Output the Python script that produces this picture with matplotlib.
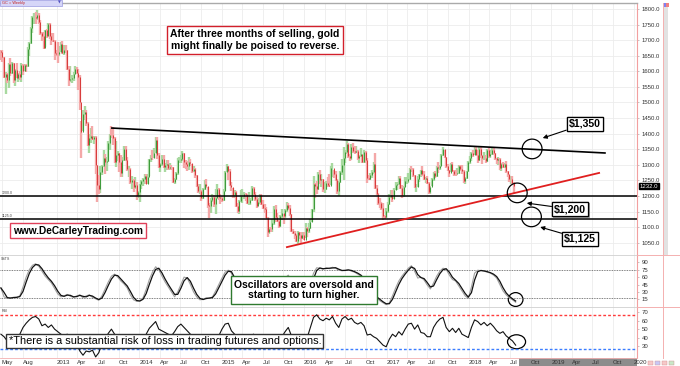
import matplotlib
matplotlib.use("Agg")
import matplotlib.pyplot as plt
import matplotlib.dates as mdates
import matplotlib.patheffects as pe
from matplotlib.patches import Ellipse, Rectangle
from matplotlib.lines import Line2D
from matplotlib.transforms import blended_transform_factory
import numpy as np
import pandas as pd

plt.rcParams['font.family'] = ['Liberation Sans', 'DejaVu Sans']

# Weekly gold futures bars as (high, low, close), weeks ending Fridays from 2012-04-27
first_week = '2012-04-27'
first_open = 1665
gc_2012 = [
    (1668, 1636, 1663), (1667, 1631, 1645), (1646, 1580, 1583), (1598, 1527, 1592), (1596, 1563, 1573),
    (1628, 1547, 1622), (1642, 1586, 1595), (1630, 1590, 1628), (1628, 1563, 1572), (1606, 1552, 1604),
    (1628, 1577, 1579), (1596, 1565, 1593), (1600, 1571, 1582), (1628, 1567, 1619), (1622, 1589, 1602),
    (1625, 1600, 1621), (1624, 1599, 1616), (1678, 1614, 1671), (1693, 1649, 1691), (1742, 1689, 1738),
    (1777, 1722, 1773), (1788, 1752, 1773), (1789, 1753, 1772), (1796, 1766, 1781), (1786, 1752, 1758),
    (1765, 1718, 1724), (1726, 1697, 1713), (1727, 1672, 1676), (1734, 1678, 1731), (1737, 1706, 1714),
    (1754, 1712, 1752), (1755, 1705, 1713), (1722, 1683, 1702), (1724, 1693, 1696), (1700, 1636, 1658),
    (1668, 1650, 1656),
]
gc_2013 = [
    (1695, 1627, 1655), (1680, 1648, 1662), (1693, 1662, 1687), (1696, 1655, 1658),
    (1683, 1652, 1669), (1684, 1660, 1667), (1667, 1604, 1609), (1616, 1554, 1572),
    (1617, 1566, 1576), (1588, 1562, 1577), (1597, 1570, 1592), (1616, 1590, 1607), (1614, 1590, 1596),
    (1606, 1540, 1581), (1587, 1476, 1501), (1440, 1321, 1405), (1477, 1407, 1463),
    (1488, 1443, 1469), (1476, 1423, 1434), (1438, 1359, 1365), (1398, 1338, 1386), (1418, 1370, 1393),
    (1425, 1380, 1384), (1394, 1366, 1388), (1391, 1269, 1298), (1301, 1180, 1234),
    (1267, 1207, 1223), (1296, 1209, 1278), (1298, 1268, 1295), (1348, 1294, 1322),
    (1334, 1270, 1310), (1324, 1280, 1312), (1378, 1309, 1371), (1400, 1347, 1397), (1424, 1387, 1396),
    (1420, 1363, 1386), (1389, 1305, 1308), (1375, 1294, 1333), (1343, 1313, 1338),
    (1338, 1276, 1310), (1330, 1260, 1273), (1326, 1262, 1315), (1361, 1312, 1352),
    (1360, 1311, 1315), (1324, 1281, 1287), (1295, 1262, 1288), (1289, 1237, 1244), (1264, 1221, 1250),
    (1256, 1212, 1230), (1262, 1222, 1235), (1245, 1187, 1204), (1217, 1193, 1213),
]
gc_2014 = [
    (1240, 1182, 1238), (1250, 1221, 1247), (1259, 1232, 1254), (1272, 1237, 1264), (1272, 1238, 1239),
    (1270, 1240, 1262), (1320, 1263, 1318), (1332, 1309, 1323), (1346, 1317, 1321),
    (1355, 1323, 1339), (1390, 1339, 1380), (1389, 1320, 1333), (1337, 1291, 1294),
    (1307, 1277, 1303), (1333, 1296, 1318), (1331, 1290, 1293), (1305, 1276, 1300),
    (1316, 1283, 1302), (1316, 1284, 1290), (1306, 1285, 1293), (1298, 1283, 1292), (1294, 1241, 1246),
    (1257, 1240, 1253), (1277, 1250, 1274), (1321, 1266, 1316), (1325, 1307, 1316),
    (1333, 1307, 1320), (1345, 1311, 1337), (1338, 1291, 1310), (1317, 1288, 1303),
    (1311, 1280, 1295), (1324, 1282, 1309), (1320, 1296, 1306), (1302, 1273, 1279), (1297, 1276, 1287),
    (1291, 1257, 1266), (1268, 1229, 1231), (1238, 1211, 1216), (1237, 1206, 1217),
    (1220, 1183, 1192), (1225, 1190, 1222), (1250, 1220, 1238), (1255, 1226, 1231), (1230, 1160, 1172),
    (1176, 1131, 1169), (1193, 1146, 1187), (1208, 1180, 1198), (1202, 1165, 1175),
    (1222, 1142, 1192), (1238, 1193, 1222), (1225, 1186, 1196), (1206, 1173, 1195),
]
gc_2015 = [
    (1199, 1180, 1186), (1224, 1183, 1217), (1281, 1217, 1277), (1304, 1276, 1295), (1297, 1250, 1279),
    (1286, 1232, 1234), (1245, 1217, 1228), (1226, 1195, 1203), (1219, 1192, 1213),
    (1216, 1164, 1167), (1176, 1147, 1152), (1187, 1142, 1183), (1220, 1180, 1199),
    (1224, 1178, 1201), (1214, 1190, 1207), (1209, 1183, 1204), (1205, 1174, 1178),
    (1214, 1170, 1179), (1195, 1171, 1188), (1232, 1183, 1225), (1229, 1200, 1205), (1212, 1184, 1190),
    (1196, 1162, 1168), (1193, 1172, 1181), (1205, 1174, 1202), (1205, 1170, 1173),
    (1186, 1158, 1163), (1175, 1146, 1158), (1166, 1128, 1131), (1133, 1070, 1085), (1102, 1077, 1095),
    (1100, 1084, 1094), (1127, 1086, 1113), (1168, 1108, 1159), (1170, 1117, 1134),
    (1147, 1117, 1121), (1124, 1098, 1103), (1140, 1101, 1137), (1157, 1124, 1145),
    (1143, 1110, 1137), (1159, 1128, 1155), (1180, 1150, 1170), (1176, 1155, 1162), (1172, 1136, 1142),
    (1142, 1085, 1088), (1095, 1077, 1081), (1087, 1063, 1076), (1079, 1052, 1056),
    (1089, 1046, 1084), (1086, 1062, 1075), (1083, 1046, 1065), (1086, 1062, 1076),
]
gc_2016 = [
    (1083, 1058, 1060), (1112, 1064, 1097), (1100, 1070, 1089), (1114, 1080, 1097), (1127, 1095, 1116),
    (1159, 1117, 1157), (1263, 1150, 1239), (1242, 1192, 1231), (1248, 1206, 1221),
    (1278, 1219, 1270), (1284, 1240, 1250), (1270, 1228, 1256), (1256, 1212, 1221),
    (1245, 1209, 1222), (1248, 1218, 1243), (1262, 1230, 1234), (1272, 1228, 1233), (1296, 1234, 1290),
    (1306, 1261, 1291), (1284, 1258, 1272), (1279, 1248, 1252), (1255, 1206, 1216),
    (1247, 1200, 1244), (1281, 1241, 1277), (1318, 1268, 1298), (1358, 1250, 1322),
    (1347, 1307, 1340), (1375, 1336, 1366), (1369, 1322, 1327), (1335, 1313, 1323), (1366, 1316, 1357),
    (1371, 1338, 1344), (1359, 1335, 1340), (1360, 1338, 1345), (1348, 1317, 1323),
    (1332, 1305, 1327), (1353, 1325, 1334), (1333, 1305, 1310), (1346, 1307, 1342), (1345, 1306, 1317),
    (1323, 1241, 1257), (1266, 1250, 1255), (1273, 1251, 1267), (1285, 1259, 1277),
    (1310, 1270, 1304), (1338, 1222, 1227), (1234, 1202, 1207), (1211, 1171, 1178),
    (1193, 1163, 1177), (1180, 1155, 1162), (1178, 1124, 1137), (1140, 1127, 1133), (1163, 1131, 1152),
]
gc_2017 = [
    (1182, 1146, 1173), (1206, 1172, 1197), (1219, 1194, 1204), (1220, 1180, 1190),
    (1226, 1191, 1220), (1245, 1218, 1234), (1244, 1218, 1239), (1264, 1234, 1257),
    (1263, 1223, 1226), (1236, 1195, 1203), (1233, 1196, 1230), (1261, 1228, 1249), (1262, 1240, 1249),
    (1274, 1243, 1256), (1291, 1250, 1288), (1297, 1276, 1286), (1290, 1261, 1268),
    (1267, 1227, 1229), (1237, 1214, 1230), (1263, 1228, 1255), (1272, 1246, 1270),
    (1283, 1260, 1282), (1297, 1265, 1271), (1280, 1252, 1256), (1261, 1243, 1257), (1263, 1239, 1243),
    (1245, 1207, 1212), (1232, 1205, 1229), (1257, 1231, 1255), (1276, 1249, 1274),
    (1280, 1257, 1264), (1296, 1261, 1294), (1308, 1274, 1291), (1301, 1282, 1297),
    (1335, 1297, 1330), (1356, 1328, 1351), (1346, 1323, 1325), (1326, 1291, 1297), (1304, 1280, 1284),
    (1283, 1262, 1275), (1306, 1276, 1303), (1310, 1277, 1280), (1285, 1263, 1272),
    (1284, 1264, 1269), (1290, 1270, 1275), (1299, 1272, 1296), (1299, 1281, 1288),
    (1300, 1271, 1281), (1282, 1243, 1249), (1262, 1238, 1257), (1281, 1255, 1279), (1311, 1278, 1309),
]
gc_2018 = [
    (1327, 1303, 1322), (1341, 1311, 1338), (1346, 1326, 1333), (1360, 1332, 1352),
    (1358, 1331, 1333), (1347, 1307, 1316), (1356, 1312, 1350), (1356, 1323, 1330),
    (1327, 1303, 1323), (1341, 1317, 1323), (1331, 1307, 1313), (1351, 1309, 1347), (1355, 1322, 1327),
    (1349, 1323, 1336), (1358, 1331, 1347), (1356, 1333, 1338), (1339, 1315, 1323),
    (1323, 1303, 1315), (1326, 1301, 1320), (1322, 1284, 1291), (1307, 1281, 1303),
    (1309, 1291, 1294), (1306, 1290, 1302), (1313, 1274, 1279), (1279, 1261, 1270), (1266, 1246, 1254),
    (1265, 1239, 1255), (1263, 1237, 1241), (1245, 1211, 1232),
]

# Oscillators, one reading every two weeks from the same start
stoch_k = [
    38, 20, 17, 18, 19, 19, 22, 40, 60, 75, 84, 87, 82, 72, 62, 55, 48, 37, 26, 20,
    22, 25, 21, 19, 22, 24, 18, 22, 24, 19, 16, 13, 22, 36, 50, 62, 66, 60, 52, 46,
    38, 24, 14, 11, 12, 18, 35, 55, 70, 81, 75, 62, 50, 40, 30, 20, 30, 45, 60, 58,
    45, 30, 20, 14, 15, 18, 17, 20, 32, 45, 58, 70, 74, 68, 50, 32, 18, 14, 25, 40,
    45, 38, 30, 22, 12, 8, 10, 22, 38, 48, 58, 64, 52, 32, 15, 8, 12, 25, 45, 68,
    79, 78, 76, 79, 77, 80, 78, 74, 73, 74, 75, 72, 70, 66, 62, 52, 40, 30, 22, 18,
    12, 8, 4, 8, 22, 38, 52, 62, 70, 78, 83, 72, 58, 60, 54, 44, 36, 48, 62, 72,
    78, 76, 64, 55, 52, 42, 32, 22, 17, 40, 68, 74, 73, 72, 70, 68, 64, 58, 45, 32,
    24, 18, 14, 9,
]
rsi = [
    44, 41, 36, 38, 41, 40, 44, 52, 57, 61, 64, 65, 62, 54, 56, 52, 55, 50, 47, 44,
    42, 44, 36, 33, 34, 24, 19, 24, 23, 25, 17, 22, 33, 38, 45, 50, 44, 42, 40, 43,
    37, 36, 33, 31, 34, 37, 44, 51, 55, 59, 50, 48, 46, 44, 42, 47, 53, 56, 52, 48,
    44, 39, 36, 32, 33, 38, 36, 41, 38, 42, 50, 56, 57, 48, 44, 40, 36, 42, 43, 42,
    44, 40, 42, 38, 32, 30, 33, 38, 43, 41, 47, 52, 42, 36, 33, 31, 38, 40, 52, 64,
    67, 62, 60, 63, 61, 65, 57, 52, 62, 65, 61, 63, 58, 56, 58, 54, 43, 44, 41, 39,
    35, 31, 29, 38, 44, 41, 47, 43, 50, 56, 57, 50, 55, 46, 45, 41, 41, 52, 58, 62,
    64, 52, 47, 51, 46, 51, 44, 42, 40, 52, 61, 59, 55, 58, 54, 57, 53, 48, 45, 47,
    42, 39, 36, 31,
]

# Chart annotations
support_levels = [1200, 1125]
resistance_line = [('2013-09-01', 1418), ('2019-08-27', 1338)]
uptrend_line = [('2015-10-17', 1036), ('2019-08-01', 1274)]
stoch_bands = [75, 17]
rsi_bands = [67, 26]
circled_prices = [('2018-10-08', 1351), ('2018-08-03', 1210), ('2018-10-05', 1133)]
circled_stoch = ('2018-07-27', 14.6)
circled_rsi = ('2018-07-31', 35)

bars = np.array(gc_2012 + gc_2013 + gc_2014 + gc_2015 + gc_2016 + gc_2017 + gc_2018, dtype=float)
high, low, close = bars.T
opens = np.r_[first_open, close[:-1]]
weeks = mdates.date2num(pd.date_range(first_week, periods=len(bars), freq='W-FRI'))
osc_dates = mdates.date2num(pd.date_range(first_week, periods=len(stoch_k), freq='2W-FRI'))
stoch_d = pd.Series(stoch_k).rolling(2, min_periods=1).mean()

def dnum(s):
    return mdates.date2num(pd.Timestamp(s))

# quarterly ticks, labelled like the charting package does
tick_dates = pd.to_datetime(['2012-05-01', '2012-08-01'] +
                            [f'{y}-{m:02d}-01' for y in range(2013, 2021) for m in (1, 4, 7, 10)])
tick_dates = tick_dates[tick_dates <= '2020-01-01']
tick_labels = [str(d.year) if d.month == 1 else d.strftime('%b') for d in tick_dates]
tick_nums = mdates.date2num(tick_dates)

fig = plt.figure(figsize=(6.8, 3.66), dpi=100)
FW, FH = 680, 366

def panel(left, top, right, bottom):
    return fig.add_axes([left / FW, 1 - bottom / FH, (right - left) / FW, (bottom - top) / FH])

ax = panel(0, 3, 637, 255)
ax_st = panel(0, 255, 637, 307)
ax_rsi = panel(0, 307, 637, 358)

for a in (ax, ax_st, ax_rsi):
    a.set_xlim(dnum('2012-04-23'), dnum('2020-01-16'))
    a.set_xticks(tick_nums)
    a.grid(True, axis='x', color='#ececec', lw=0.6)
    a.set_axisbelow(True)
    a.yaxis.tick_right()
    a.tick_params(axis='y', labelsize=4.3, length=1.5, width=0.4, color='#999999',
                  labelcolor='#333333', pad=2)
    a.tick_params(axis='x', length=0)
    a.spines['left'].set_visible(False)
    a.spines['right'].set_color('#f2a0a0')
    a.spines['top'].set_color('#d0d0d0')
    a.spines['bottom'].set_color('#e0e0e0')
    a.spines['top'].set_linewidth(0.6)
    a.spines['bottom'].set_linewidth(0.6)

ax.tick_params(axis='x', labelbottom=False)
ax_st.tick_params(axis='x', labelbottom=False)
ax.grid(True, axis='y', color='#ececec', lw=0.6)
ax.spines['top'].set_color('#aaaaaa')
ax.spines['top'].set_linewidth(1.0)
ax_rsi.spines['bottom'].set_color('#f4b0b0')

# price panel
ax.set_ylim(1010.7, 1819.2)
ax.set_yticks(np.arange(1050, 1801, 50))
ax.set_yticklabels([f'{v:.1f}' for v in np.arange(1050, 1801, 50)])

up = close >= opens
body_lo = np.minimum(opens, close)
body_hi = np.maximum(opens, close)
for mask, light, dark in [(up, '#a8d9a0', '#3c9a3a'), (~up, '#f4a8a8', '#d83a3a')]:
    ax.vlines(weeks[mask], low[mask], high[mask], color=light, lw=1.7, zorder=2)
    ax.vlines(weeks[mask], body_lo[mask], body_hi[mask], color=dark, lw=0.7, zorder=3)

for level in support_levels:
    ax.axhline(level, color='black', lw=1.1, zorder=4)
    ax.text(0.002, level + 3, f'{level:.1f}', transform=blended_transform_factory(ax.transAxes, ax.transData),
            fontsize=2.6, color='#444444', va='bottom', ha='left')

(r0, p0), (r1, p1) = resistance_line
ax.plot([dnum(r0), dnum(r1)], [p0, p1], color='black', lw=1.2, zorder=4)
(u0, q0), (u1, q1) = uptrend_line
ax.plot([dnum(u0), dnum(u1)], [q0, q1], color='#e01f1f', lw=1.3, zorder=4)

for day, price in circled_prices:
    ax.add_patch(Ellipse((dnum(day), price), 88, 63, fill=False, ec='black', lw=0.9, zorder=5))

# last price tag on the scale
ax.text(1.0047, close[-1], f'{close[-1]:.1f}', transform=blended_transform_factory(ax.transAxes, ax.transData),
        fontsize=4.3, color='white', va='center', ha='left', clip_on=False,
        bbox=dict(boxstyle='square,pad=0.12', fc='black', ec='black'))

ax.text(0.400, 0.853, 'After three months of selling, gold\nmight finally be poised to reverse.',
        transform=ax.transAxes, ha='center', va='center', fontsize=7.5, fontweight='bold',
        linespacing=1.15, zorder=6,
        bbox=dict(boxstyle='square,pad=0.3', fc='white', ec='#d21f2b', lw=1.0))
ax.text(0.1225, 0.097, 'www.DeCarleyTrading.com', transform=ax.transAxes, ha='center', va='center',
        fontsize=7.3, fontweight='bold', zorder=6,
        bbox=dict(boxstyle='square,pad=0.25', fc='white', ec='#e0405a', lw=1.0))

price_boxes = [('$1,350', (0.918, 0.520), (0.852, 0.464)),
               ('$1,200', (0.895, 0.1825), (0.827, 0.206)),
               ('$1,125', (0.9105, 0.065), (0.848, 0.111))]
for label, box_at, head_at in price_boxes:
    t = ax.annotate(label, xy=head_at, xycoords='axes fraction', xytext=box_at, textcoords='axes fraction',
                    ha='center', va='center', fontsize=7.6, fontweight='bold', zorder=6,
                    bbox=dict(boxstyle='square,pad=0.2', fc='white', ec='black', lw=0.9),
                    arrowprops=dict(arrowstyle='-|>', color='black', lw=0.8, mutation_scale=6,
                                    shrinkA=0, shrinkB=0))
    t.get_bbox_patch().set_path_effects([pe.withSimplePatchShadow(offset=(1, -1), shadow_rgbFace='#888888',
                                                                 alpha=0.7), pe.Normal()])

# stochastics panel
ax_st.set_ylim(-0.6, 104.8)
ax_st.set_yticks(np.arange(15, 91, 15))
for band in stoch_bands:
    ax_st.axhline(band, color='#555555', lw=0.6, ls=(0, (1, 1)))
ax_st.plot(osc_dates, stoch_k, color='#a0a0a0', lw=0.8)
ax_st.plot(osc_dates, stoch_d, color='#111111', lw=0.9)
ax_st.add_patch(Ellipse((dnum(circled_stoch[0]), circled_stoch[1]), 65, 28, fill=False, ec='black', lw=0.9))
ax_st.text(0.002, 0.97, 'SSTS', transform=ax_st.transAxes, fontsize=2.6, color='#444444', va='top')
ax_st.text(0.477, 0.327, 'Oscillators are oversold and\nstarting to turn higher.', transform=ax_st.transAxes,
           ha='center', va='center', fontsize=7.5, fontweight='bold', linespacing=1.1, zorder=6,
           bbox=dict(boxstyle='square,pad=0.3', fc='white', ec='#2f7a2f', lw=1.0))

# RSI panel
ax_rsi.set_ylim(15.7, 76.3)
ax_rsi.set_yticks(np.arange(30, 71, 10))
ax_rsi.axhline(rsi_bands[0], color='#ff3b3b', lw=1.0, ls=(0, (2, 1.5)))
ax_rsi.axhline(rsi_bands[1], color='#3b7dff', lw=1.0, ls=(0, (2, 1.5)))
ax_rsi.plot(osc_dates, rsi, color='#111111', lw=0.8)
ax_rsi.add_patch(Ellipse((dnum(circled_rsi[0]), circled_rsi[1]), 80, 16.6, fill=False, ec='black', lw=0.9))
ax_rsi.text(0.002, 0.97, 'RSI', transform=ax_rsi.transAxes, fontsize=2.6, color='#444444', va='top')
ax_rsi.text(0.259, 0.333, '*There is a substantial risk of loss in trading futures and options.',
            transform=ax_rsi.transAxes, ha='center', va='center', fontsize=7.9, zorder=6,
            bbox=dict(boxstyle='square,pad=0.2', fc='white', ec='#333333', lw=1.0))

ax_rsi.set_xticklabels(tick_labels, fontsize=4.3, color='#333333', ha='left')
ax_rsi.tick_params(axis='x', pad=1.5)

# window furniture around the plot
fig.patches.append(Rectangle((519 / FW, 0), 118 / FW, 8 / FH, transform=fig.transFigure,
                             fc='#8c8c8c', ec='none', zorder=-1))
fig.patches.append(Rectangle((663 / FW, 1 - 255 / FH), 5 / FW, 252 / FH, transform=fig.transFigure,
                             fc='#e2e2e2', ec='none'))
fig.patches.append(Rectangle((0, 1 - 6 / FH), 62 / FW, 6 / FH, transform=fig.transFigure,
                             fc='#d6d6f8', ec='#9a9ae0', lw=0.5))
fig.text(2 / FW, 1 - 3 / FH, 'GC = Weekly', fontsize=2.8, color='#c02020', va='center')
fig.text(58 / FW, 1 - 3 / FH, '▼', fontsize=2.6, color='#5050c0', va='center', family='DejaVu Sans')
fig.patches.append(Rectangle((663 / FW, 1 - 7 / FH), 3 / FW, 4 / FH, transform=fig.transFigure,
                             fc='#8080f0', ec='none'))
fig.patches.append(Rectangle((666 / FW, 1 - 7 / FH), 3 / FW, 4 / FH, transform=fig.transFigure,
                             fc='#f08080', ec='none'))
for yy in (255, 307):
    fig.add_artist(Line2D([637 / FW, 1], [1 - yy / FH] * 2, color='#f4b0b0', lw=0.7))
fig.add_artist(Line2D([663 / FW] * 2, [1 - 358 / FH, 1 - 3 / FH], color='#f4b0b0', lw=0.7))
for i, c in enumerate(['#f6c8c8', '#c8c8f6', '#f6c8c8', '#c8e8c8']):
    fig.patches.append(Rectangle(((648 + 7 * i) / FW, 1 / FH), 5 / FW, 4 / FH, transform=fig.transFigure,
                                 fc=c, ec='#d09090', lw=0.3))

fig.savefig('out.png', dpi=100)
